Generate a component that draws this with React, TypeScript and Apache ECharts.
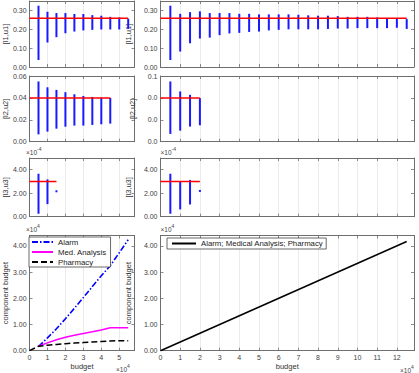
import React, { useEffect, useRef } from 'react';
import * as echarts from 'echarts';

const FONT = '"Liberation Sans", Arial, Helvetica, sans-serif';

// Row 1: [l1,u1]
const r1LeftX = [0.5, 1.0, 1.5, 2.0, 2.5, 3.0, 3.5, 4.0, 4.5, 5.0, 5.5];
const r1LeftLow = [0.037, 0.130, 0.158, 0.179, 0.188, 0.194, 0.197, 0.199, 0.199, 0.199, 0.202];
const r1LeftHigh = [0.325, 0.293, 0.286, 0.286, 0.281, 0.281, 0.275, 0.272, 0.266, 0.263, 0.256];
const r1RightX = [0.5, 1.0, 1.5, 2.0, 2.5, 3.0, 3.5, 4.0, 4.5, 5.0, 5.5, 6.0, 6.5, 7.0, 7.5, 8.0, 8.5, 9.0, 9.5, 10.0, 10.5, 11.0, 11.5, 12.0, 12.5];
const r1RightLow = [0.037, 0.082, 0.126, 0.151, 0.156, 0.169, 0.178, 0.181, 0.186, 0.188, 0.194, 0.197, 0.200, 0.200, 0.200, 0.200, 0.202, 0.204, 0.204, 0.206, 0.206, 0.206, 0.206, 0.208, 0.202];
const r1RightHigh = [0.325, 0.282, 0.291, 0.295, 0.286, 0.286, 0.286, 0.282, 0.282, 0.279, 0.279, 0.279, 0.279, 0.277, 0.274, 0.272, 0.272, 0.270, 0.266, 0.266, 0.266, 0.263, 0.259, 0.259, 0.254];
const r1Ref = 0.259;

// Row 2: [l2,u2]
const r2LeftX = [0.5, 1.0, 1.5, 2.0, 2.5, 3.0, 3.5, 4.0, 4.5];
const r2LeftLow = [0.0067, 0.0092, 0.0119, 0.0137, 0.0147, 0.0147, 0.0153, 0.0159, 0.0165];
const r2LeftHigh = [0.055, 0.0497, 0.0473, 0.0452, 0.0433, 0.0418, 0.0409, 0.0403, 0.040];
const r2RightX = [0.5, 1.0, 1.5, 2.0];
const r2RightLow = [0.0071, 0.0101, 0.0138, 0.015];
const r2RightHigh = [0.055, 0.0459, 0.0428, 0.0398];
const r2Ref = 0.04;

// Row 3: [l3,u3] (x 10^-4)
const r3LeftX = [0.5, 1.0, 1.5];
const r3LeftLow = [0.25, 1.07, 2.08];
const r3LeftHigh = [3.66, 3.18, 2.25];
const r3RightX = [0.5, 1.0, 1.5, 2.0];
const r3RightLow = [0.25, 0.62, 1.04, 2.11];
const r3RightHigh = [3.66, 3.0, 3.13, 2.28];
const r3Ref = 3.0;

// Row 4: component budget (x 10^4)
const budgetL = [0, 0.5, 1.0, 1.5, 2.0, 2.5, 3.0, 3.5, 4.0, 4.5, 5.0, 5.5];
const alarmL = [null, 0.16, 0.49, 0.84, 1.22, 1.62, 2.03, 2.45, 2.86, 3.25, 3.74, 4.24];
const medL = [null, 0.17, 0.30, 0.42, 0.51, 0.59, 0.66, 0.72, 0.79, 0.88, 0.88, 0.88];
const pharmL = [0, 0.17, 0.21, 0.24, 0.27, 0.29, 0.31, 0.33, 0.35, 0.37, 0.38, 0.38];
const budgetR = [0, 12.5];
const allR = [0, 4.17];

const LEFT_W = 108.5;
const RIGHT_W = 253.5;
const grids = [
  { left: 26, top: 1, width: LEFT_W, height: 66 },
  { left: 160.5, top: 1, width: RIGHT_W, height: 66 },
  { left: 26, top: 76, width: LEFT_W, height: 65.7 },
  { left: 160.5, top: 76, width: RIGHT_W, height: 65.7 },
  { left: 26, top: 158, width: LEFT_W, height: 58.7 },
  { left: 160.5, top: 158, width: RIGHT_W, height: 58.7 },
  { left: 26, top: 235.5, width: LEFT_W, height: 115.2 },
  { left: 160.5, top: 235.5, width: RIGHT_W, height: 115.2 },
];

const AX = '#6e6e6e';
const LBL = '#404040';

function zip3(x: number[], a: number[], b: number[]) {
  return x.map((v, i) => [v, a[i], b[i]]);
}
function zip2(x: number[], a: (number | null)[]) {
  return x.map((v, i) => [v, a[i]]);
}

export default function App() {
  const ref = useRef<HTMLDivElement>(null);
  useEffect(() => {
    if (!ref.current) return;
    const chart = echarts.init(ref.current, null, { renderer: 'svg' });

    const rowY = [
      { max: 0.35, interval: 0.1, name: '[l1,u1]' },
      { max: 0.06, interval: 0.02, name: '[l2,u2]' },
      { max: 5, interval: 2, name: '[l3,u3]' },
      { max: 4.4, interval: 1, name: 'component budget' },
    ];

    const xAxis: any[] = [];
    const yAxis: any[] = [];
    grids.forEach((g, i) => {
      const col = i % 2;
      const row = Math.floor(i / 2);
      const xmax = col === 0 ? 5.85 : 12.87;
      const tick = { show: true, inside: true, length: 3, lineStyle: { color: AX, width: 0.8 } };
      xAxis.push({
        type: 'value', gridIndex: i, position: 'bottom', min: 0, max: xmax, interval: 1,
        axisLine: { show: true, onZero: false, lineStyle: { color: AX, width: 1 } },
        axisTick: tick,
        splitLine: { show: true, lineStyle: { color: '#ebebeb', width: 1 } },
        axisLabel: {
          show: row === 3, showMaxLabel: false, fontSize: 7, color: LBL, fontFamily: FONT, margin: 3,
          formatter: (v: number) => String(Math.round(v)),
        },
        name: row === 3 ? 'budget' : '', nameLocation: 'middle', nameGap: 12,
        nameTextStyle: { fontSize: 7.5, color: '#333', fontFamily: FONT },
      });
      xAxis.push({
        type: 'value', gridIndex: i, position: 'top', min: 0, max: xmax, interval: 1,
        axisLine: { show: true, onZero: false, lineStyle: { color: AX, width: 1 } },
        axisTick: tick, splitLine: { show: false }, axisLabel: { show: false },
      });
      const ry = rowY[row];
      const dec = row === 1 && col === 1 ? 1 : 2;
      yAxis.push({
        type: 'value', gridIndex: i, position: 'left', min: 0, max: ry.max, interval: ry.interval,
        axisLine: { show: true, onZero: false, lineStyle: { color: AX, width: 1 } },
        axisTick: tick, splitLine: { show: false },
        axisLabel: {
          show: true, showMaxLabel: row === 1, fontSize: 7, color: LBL, fontFamily: FONT, margin: 3,
          formatter: (v: number) => v.toFixed(dec),
        },
        name: ry.name, nameLocation: 'middle', nameRotate: 90, nameGap: 15,
        nameTextStyle: { fontSize: 7.5, color: '#333', fontFamily: FONT },
      });
      yAxis.push({
        type: 'value', gridIndex: i, position: 'right', min: 0, max: ry.max, interval: ry.interval,
        axisLine: { show: true, onZero: false, lineStyle: { color: AX, width: 1 } },
        axisTick: tick, splitLine: { show: false }, axisLabel: { show: false },
      });
    });

    const renderBar = (params: any, api: any) => {
      const x = api.value(0);
      const lo = api.coord([x, api.value(1)]);
      const hi = api.coord([x, api.value(2)]);
      return {
        type: 'rect',
        shape: { x: lo[0] - 1, y: hi[1], width: 2, height: Math.max(lo[1] - hi[1], 1.5) },
        style: { fill: '#1a1aff' },
      };
    };
    const barSeries = (gi: number, data: number[][]) => ({
      type: 'custom', xAxisIndex: gi * 2, yAxisIndex: gi * 2, renderItem: renderBar,
      encode: { x: 0, y: [1, 2] }, data, silent: true, z: 2,
    });
    const refSeries = (gi: number, xEnd: number, v: number) => ({
      type: 'line', xAxisIndex: gi * 2, yAxisIndex: gi * 2, data: [[0, v], [xEnd, v]],
      symbol: 'none', lineStyle: { color: '#ff0000', width: 1.5 }, silent: true, z: 3,
    });

    const series: any[] = [
      barSeries(0, zip3(r1LeftX, r1LeftLow, r1LeftHigh)),
      refSeries(0, r1LeftX[r1LeftX.length - 1], r1Ref),
      barSeries(1, zip3(r1RightX, r1RightLow, r1RightHigh)),
      refSeries(1, r1RightX[r1RightX.length - 1], r1Ref),
      barSeries(2, zip3(r2LeftX, r2LeftLow, r2LeftHigh)),
      refSeries(2, r2LeftX[r2LeftX.length - 1], r2Ref),
      barSeries(3, zip3(r2RightX, r2RightLow, r2RightHigh)),
      refSeries(3, r2RightX[r2RightX.length - 1], r2Ref),
      barSeries(4, zip3(r3LeftX, r3LeftLow, r3LeftHigh)),
      refSeries(4, r3LeftX[r3LeftX.length - 1], r3Ref),
      barSeries(5, zip3(r3RightX, r3RightLow, r3RightHigh)),
      refSeries(5, r3RightX[r3RightX.length - 1], r3Ref),
      {
        name: 'Alarm', type: 'line', xAxisIndex: 12, yAxisIndex: 12, data: zip2(budgetL, alarmL),
        symbol: 'none', itemStyle: { color: '#0000ff' },
        lineStyle: { color: '#0000ff', width: 1.6, type: [6, 2, 1.5, 2] },
      },
      {
        name: 'Med. Analysis', type: 'line', xAxisIndex: 12, yAxisIndex: 12, data: zip2(budgetL, medL),
        symbol: 'none', itemStyle: { color: '#ff00ff' }, lineStyle: { color: '#ff00ff', width: 1.5 },
      },
      {
        name: 'Pharmacy', type: 'line', xAxisIndex: 12, yAxisIndex: 12, data: zip2(budgetL, pharmL),
        symbol: 'none', itemStyle: { color: '#000000' },
        lineStyle: { color: '#000000', width: 1.5, type: [6, 3] },
      },
      {
        name: 'Alarm; Medical Analysis; Pharmacy', type: 'line', xAxisIndex: 14, yAxisIndex: 14,
        data: zip2(budgetR, allR), symbol: 'none', itemStyle: { color: '#000000' },
        lineStyle: { color: '#000000', width: 1.5 },
      },
    ];

    const legendBase = {
      orient: 'vertical', backgroundColor: '#ffffff', borderColor: '#444', borderWidth: 0.8,
      borderRadius: 0, itemHeight: 8, itemGap: 2, selectedMode: false,
      itemStyle: { opacity: 0, borderWidth: 0 },
      textStyle: { fontSize: 7.8, color: '#222', fontFamily: FONT },
    };

    const txt = (x: number, y: number, s: string, size: number) => ({
      type: 'text', x, y, silent: true,
      style: { text: s, fontSize: size, fill: '#444', fontFamily: FONT, textVerticalAlign: 'middle' },
    });
    const expLabel = (x: number, y: number, e: string) => [
      txt(x, y, '×10', 6.5),
      txt(x + 11, y - 3, e, 5),
    ];

    chart.setOption({
      animation: false,
      backgroundColor: '#ffffff',
      grid: grids.map((g) => ({ ...g, containLabel: false })),
      xAxis,
      yAxis,
      series,
      legend: [
        {
          ...legendBase, data: ['Alarm', 'Med. Analysis', 'Pharmacy'], left: 29, top: 237,
          itemWidth: 21, padding: [1, 4, 1, 2],
        },
        {
          ...legendBase, data: ['Alarm; Medical Analysis; Pharmacy'], left: 167, top: 238,
          itemWidth: 24, padding: [1.5, 3, 1.5, 4],
        },
      ],
      graphic: [
        ...expLabel(26, 152, '-4'),
        ...expLabel(160.5, 152, '-4'),
        ...expLabel(26, 229, '4'),
        ...expLabel(160.5, 229, '4'),
        ...expLabel(116, 369, '4'),
        ...expLabel(400, 370, '4'),
      ],
    });
    return () => chart.dispose();
  }, []);
  return (
    <div
      ref={ref}
      style={{ position: 'fixed', left: 0, top: 0, width: 419, height: 373, background: '#fff' }}
    />
  );
}
